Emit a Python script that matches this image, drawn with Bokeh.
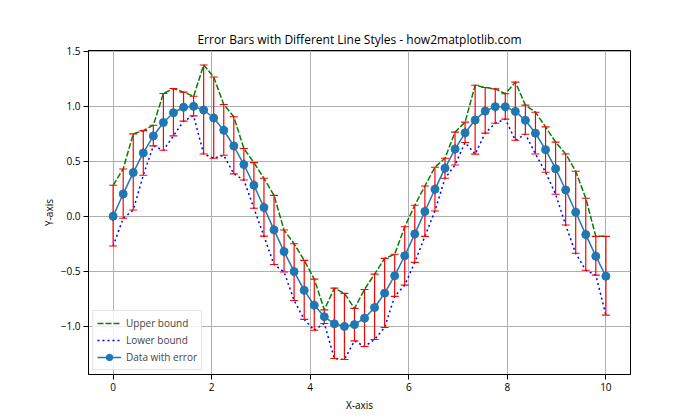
import math
from bokeh.plotting import figure
from bokeh.models import Range1d, Legend, LegendItem, ColumnDataSource
from bokeh.embed import file_html
from bokeh.resources import INLINE

# Data
x_vals = [0.0, 0.204, 0.408, 0.612, 0.816, 1.020, 1.224, 1.429, 1.633, 1.837,
          2.041, 2.245, 2.449, 2.653, 2.857, 3.061, 3.265, 3.469, 3.673, 3.878,
          4.082, 4.286, 4.490, 4.694, 4.898, 5.102, 5.306, 5.510, 5.714, 5.918,
          6.122, 6.327, 6.531, 6.735, 6.939, 7.143, 7.347, 7.551, 7.755, 7.959,
          8.163, 8.367, 8.571, 8.776, 8.980, 9.184, 9.388, 9.592, 9.796, 10.0]
y_vals = [0.000, 0.203, 0.397, 0.575, 0.729, 0.852, 0.940, 0.990, 0.998, 0.965,
          0.892, 0.781, 0.638, 0.470, 0.282, 0.080, -0.123, -0.320, -0.502, -0.672,
          -0.808, -0.911, -0.976, -1.000, -0.983, -0.925, -0.828, -0.698, -0.539, -0.358,
          -0.160, 0.044, 0.245, 0.437, 0.610, 0.758, 0.874, 0.955, 0.995, 0.994,
          0.952, 0.871, 0.754, 0.605, 0.432, 0.239, 0.037, -0.166, -0.362, -0.544]
upper_vals = [0.282, 0.43, 0.748, 0.778, 0.827, 1.115, 1.16, 1.127, 1.09, 1.373,
              1.264, 1.015, 0.903, 0.615, 0.487, 0.345, 0.19, -0.125, -0.249, -0.40,
              -0.57, -0.849, -0.652, -0.70, -0.836, -0.664, -0.525, -0.382, -0.345, -0.095,
              0.10, 0.275, 0.445, 0.527, 0.764, 0.855, 1.19, 1.169, 1.157, 1.112,
              1.218, 1.009, 0.945, 0.812, 0.673, 0.566, 0.409, 0.164, -0.182, -0.182]
lower_vals = [-0.27, -0.018, 0.057, 0.373, 0.639, 0.60, 0.73, 0.864, 0.912, 0.566,
              0.527, 0.554, 0.385, 0.33, 0.073, -0.18, -0.437, -0.506, -0.764, -0.936,
              -1.034, -0.973, -1.291, -1.30, -1.131, -1.182, -1.118, -1.009, -0.727, -0.625,
              -0.418, -0.182, 0.048, 0.345, 0.466, 0.67, 0.564, 0.755, 0.845, 0.882,
              0.69, 0.745, 0.566, 0.40, 0.20, -0.079, -0.336, -0.49, -0.534, -0.897]

x_ticks = [0, 2, 4, 6, 8, 10]
y_ticks = [-1.0, -0.5, 0.0, 0.5, 1.0, 1.5]
y_tick_labels = {-1.0: "\u22121.0", -0.5: "\u22120.5", 0.0: "0.0", 0.5: "0.5", 1.0: "1.0", 1.5: "1.5"}

title_text = "Error Bars with Different Line Styles - how2matplotlib.com"
FONT = "Open Sans"

src = ColumnDataSource(dict(x=x_vals, y=y_vals, up=upper_vals, lo=lower_vals))

p = figure(width=700, height=420, output_backend="svg", toolbar_location=None,
           x_range=Range1d(-0.5, 10.5), y_range=Range1d(-1.436, 1.505),
           min_border_left=88, min_border_right=70, min_border_top=50, min_border_bottom=46,
           title=title_text)

p.title.align = "center"
p.title.text_font = FONT
p.title.text_font_size = "12px"
p.title.text_font_style = "normal"
p.title.text_color = "#000000"
p.title.standoff = 6

p.background_fill_color = "white"
p.border_fill_color = "white"
p.outline_line_color = "black"
p.outline_line_width = 1

for ax in (p.xaxis[0], p.yaxis[0]):
    ax.major_tick_out = 5
    ax.major_tick_in = 0
    ax.minor_tick_out = 0
    ax.minor_tick_in = 0
    ax.axis_line_color = "black"
    ax.major_tick_line_color = "black"
    ax.major_label_text_font = FONT
    ax.major_label_text_font_size = "10px"
    ax.major_label_text_color = "black"
    ax.axis_label_text_font = FONT
    ax.axis_label_text_font_size = "10px"
    ax.axis_label_text_font_style = "normal"
    ax.axis_label_text_color = "black"

p.xaxis.ticker = x_ticks
p.yaxis.ticker = y_ticks
p.yaxis.major_label_overrides = y_tick_labels
p.xaxis.axis_label = "X-axis"
p.yaxis.axis_label = "Y-axis"
p.xaxis.major_label_standoff = 3
p.yaxis.major_label_standoff = 3
p.xaxis.axis_label_standoff = 4
p.yaxis.axis_label_standoff = 2

p.grid.grid_line_color = "#b0b0b0"
p.grid.grid_line_width = 1
p.xgrid.ticker = x_ticks
p.ygrid.ticker = y_ticks

r_up = p.line("x", "up", source=src, line_color="green", line_width=1.5, line_dash="6 2")
r_lo = p.line("x", "lo", source=src, line_color="blue", line_width=1.5, line_dash="2 3")

# error bars
p.segment(x0="x", y0="lo", x1="x", y1="up", source=src, line_color="red", line_width=1.2)
p.scatter("x", "up", source=src, marker="dash", size=8, line_color="red", line_width=1.1)
p.scatter("x", "lo", source=src, marker="dash", size=8, line_color="red", line_width=1.1)
r_eb = p.scatter("x", "y", source=src, marker="dash", angle=math.pi / 2, size=10,
                 line_color="red", line_width=1.2)

r_line = p.line("x", "y", source=src, line_color="#1f77b4", line_width=1.5)
r_pts = p.scatter("x", "y", source=src, marker="circle", size=8,
                  fill_color="#1f77b4", line_color="#1f77b4")

legend = Legend(items=[
    LegendItem(label="Upper bound", renderers=[r_up]),
    LegendItem(label="Lower bound", renderers=[r_lo]),
    LegendItem(label="Data with error", renderers=[r_eb, r_line, r_pts]),
], location="bottom_left")
legend.label_text_font = FONT
legend.label_text_font_size = "10px"
legend.glyph_width = 24
legend.glyph_height = 16
legend.label_height = 16
legend.spacing = 1
legend.padding = 4
legend.margin = 4
legend.label_standoff = 5
legend.border_line_color = "#cccccc"
legend.border_line_width = 1
legend.background_fill_alpha = 0.8
p.add_layout(legend)

open("out.html", "w").write(file_html(p, INLINE))
